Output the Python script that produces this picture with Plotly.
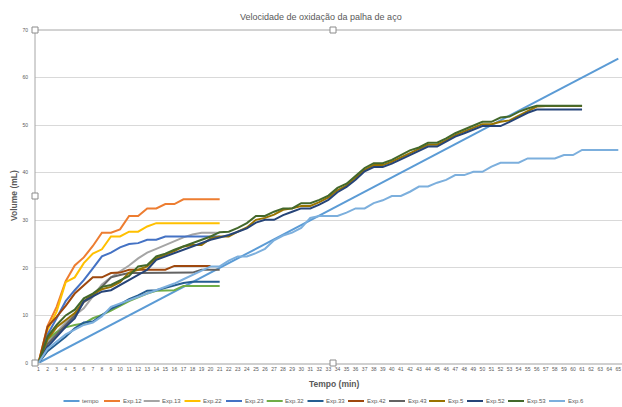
import plotly.graph_objects as go

# ---------------- data ----------------
categories = list(range(1, 66))

tempo = list(range(0, 65))
exp12 = [0, 7.8, 11.8, 17.2, 20.5, 22.2, 24.6, 27.4, 27.4, 28.1, 30.9, 30.9, 32.5, 32.5, 33.4, 33.4, 34.4, 34.4, 34.4, 34.4, 34.4]
exp13 = [0, 4.5, 6.5, 8.5, 10.0, 11.5, 14.0, 16.5, 18.0, 19.3, 20.5, 22.0, 23.2, 24.0, 24.8, 25.6, 26.4, 27.0, 27.4, 27.4, 27.4]
exp22 = [0, 7.0, 10.8, 17.0, 18.0, 21.0, 23.0, 23.9, 26.6, 26.6, 27.6, 27.6, 28.7, 29.4, 29.4, 29.4, 29.4, 29.4, 29.4, 29.4, 29.4]
exp23 = [0, 6.0, 9.4, 13.0, 15.3, 17.4, 19.9, 22.4, 23.2, 24.3, 25.0, 25.2, 25.9, 25.9, 26.6, 26.6, 26.6, 26.6, 26.6, 26.6, 26.6]
exp32 = [0, 5.0, 6.5, 7.5, 8.0, 8.3, 9.4, 10.1, 11.0, 12.0, 13.0, 13.8, 14.6, 15.2, 15.3, 15.3, 16.2, 16.2, 16.2, 16.2, 16.2]
exp33 = [0, 2.5, 4.0, 5.5, 7.3, 8.5, 8.7, 10.1, 11.4, 12.3, 13.4, 14.2, 15.2, 15.3, 15.8, 16.2, 16.8, 17.1, 17.1, 17.1, 17.1]
exp42 = [0, 7.6, 9.7, 12.0, 14.6, 16.4, 18.0, 18.0, 18.9, 19.0, 19.6, 19.6, 19.6, 19.6, 19.6, 20.4, 20.4, 20.4, 20.4, 20.4]
exp43 = [0, 4.0, 6.0, 8.0, 10.0, 12.8, 14.0, 16.0, 18.0, 18.5, 18.9, 18.9, 18.9, 18.9, 18.9, 18.9, 18.9, 19.0, 19.6, 19.6, 19.6]
exp5 = [0, 5.0, 7.5, 9.0, 10.5, 13.0, 14.5, 15.5, 16.0, 17.0, 19.0, 19.6, 20.3, 22.0, 22.8, 23.5, 24.5, 24.8, 24.8, 26.2,
        26.6, 26.6, 27.6, 28.5, 30.1, 30.5, 31.2, 32.2, 32.5, 33.0, 33.0, 33.8, 34.8, 36.3, 37.3, 38.9, 40.6, 41.6, 41.6, 42.3,
        43.2, 44.2, 45.0, 45.9, 45.9, 46.8, 47.9, 48.7, 49.4, 50.2, 50.2, 50.7, 51.0, 52.0, 53.0, 53.9, 54.0, 54.0, 54.0, 54.0, 54.0]
exp52 = [0, 3.4, 5.5, 7.6, 9.4, 13.0, 14.0, 15.0, 15.3, 16.4, 17.4, 18.5, 19.6, 21.7, 22.4, 23.1, 23.8, 24.5, 25.2, 25.9,
         26.4, 26.9, 27.6, 28.3, 29.5, 30.1, 30.1, 31.1, 31.8, 32.5, 32.5, 33.3, 34.3, 35.9, 37.0, 38.5, 40.3, 41.2, 41.2, 41.9,
         42.8, 43.7, 44.6, 45.5, 45.5, 46.5, 47.6, 48.3, 49.1, 49.8, 49.8, 49.8, 50.7, 51.6, 52.6, 53.3, 53.3, 53.3, 53.3, 53.3, 53.3]
exp53 = [0, 5.5, 8.0, 10.0, 11.2, 13.6, 14.6, 16.0, 16.4, 17.4, 18.3, 20.3, 20.6, 22.4, 23.0, 23.8, 24.5, 25.2, 25.9, 26.6,
         27.5, 27.6, 28.4, 29.4, 30.9, 30.9, 31.8, 32.5, 32.5, 33.6, 33.6, 34.3, 35.2, 36.8, 37.7, 39.3, 41.0, 42.0, 42.0, 42.7,
         43.7, 44.7, 45.3, 46.3, 46.3, 47.2, 48.3, 49.1, 49.8, 50.7, 50.7, 51.6, 51.8, 52.8, 53.5, 54.1, 54.1, 54.1, 54.1, 54.1, 54.1]
exp6 = [0, 3.0, 4.5, 6.0, 7.0, 8.0, 8.5, 9.8, 11.8, 12.5, 13.2, 13.9, 14.6, 15.3, 16.0, 16.7, 17.6, 18.5, 19.5, 20.3,
        20.3, 21.5, 22.4, 22.4, 23.1, 24.0, 25.8, 26.8, 27.4, 28.4, 30.5, 30.9, 30.9, 30.9, 31.6, 32.5, 32.5, 33.6, 34.2, 35.1,
        35.1, 36.0, 37.1, 37.1, 37.9, 38.5, 39.5, 39.5, 40.2, 40.2, 41.3, 42.1, 42.1, 42.1, 43.0, 43.0, 43.0, 43.0, 43.7, 43.7,
        44.8, 44.8, 44.8, 44.8, 44.8]

series_names = ["tempo", "Exp.12", "Exp.13", "Exp.22", "Exp.23", "Exp.32", "Exp.33",
                "Exp.42", "Exp.43", "Exp.5", "Exp.52", "Exp.53", "Exp.6"]
series_values = [tempo, exp12, exp13, exp22, exp23, exp32, exp33, exp42, exp43, exp5, exp52, exp53, exp6]
colors = ["#5B9BD5", "#ED7D31", "#A5A5A5", "#FFC000", "#4472C4", "#70AD47", "#255E91",
          "#9E480E", "#636363", "#997300", "#264478", "#43682B", "#7CAFDD"]

y_ticks = [0, 10, 20, 30, 40, 50, 60, 70]

# ---------------- layout geometry (pixels) ----------------
W, H = 622, 407
L, R, T, B = 35, 0, 30, 44
PW, PH = W - L - R, H - T - B
TXT = "#595959"
FONT = "Liberation Sans"


def px(x):
    return (x - L) / PW


def py(y):
    return (H - B - y) / PH


fig = go.Figure()
for name, vals, col in zip(series_names, series_values, colors):
    fig.add_trace(go.Scatter(x=categories[:len(vals)], y=vals, mode="lines", name=name,
                             line=dict(color=col, width=2), showlegend=False))

shapes = []
annotations = []

# manual legend
leg_x = [63.5, 104, 143.7, 184.5, 226, 266.7, 307.5, 348, 389, 429, 467, 508, 549]
leg_y = 401
for name, col, lx in zip(series_names, colors, leg_x):
    shapes.append(dict(type="line", xref="paper", yref="paper", x0=px(lx), x1=px(lx + 16),
                       y0=py(leg_y), y1=py(leg_y), line=dict(color=col, width=2)))
    annotations.append(dict(text=name, xref="paper", yref="paper", x=px(lx + 16.5), y=py(leg_y),
                            xanchor="left", yanchor="middle", showarrow=False,
                            font=dict(size=6, color=TXT, family=FONT)))

# title & axis titles
annotations.append(dict(text="Velocidade de oxidação da palha de aço", xref="paper", yref="paper",
                        x=px(321), y=py(17), xanchor="center", yanchor="middle", showarrow=False,
                        font=dict(size=9, color=TXT, family=FONT)))
annotations.append(dict(text="<b>Tempo (min)</b>", xref="paper", yref="paper",
                        x=px(334), y=py(384), xanchor="center", yanchor="middle", showarrow=False,
                        font=dict(size=8.5, color=TXT, family=FONT)))
annotations.append(dict(text="<b>Volume (mL)</b>", xref="paper", yref="paper", textangle=-90,
                        x=px(14), y=py(196), xanchor="center", yanchor="middle", showarrow=False,
                        font=dict(size=8.5, color=TXT, family=FONT)))

# plot-area frame (top and left border)
shapes.append(dict(type="line", xref="paper", yref="paper", x0=0, x1=1.01, y0=1, y1=1,
                   line=dict(color="#A6A6A6", width=1)))
shapes.append(dict(type="line", xref="paper", yref="paper", x0=0, x1=0, y0=0, y1=1,
                   line=dict(color="#A6A6A6", width=1)))

# selection handles
for hx, hy in [(35, 30), (333, 30), (35, 196), (35, 363), (333, 363)]:
    shapes.append(dict(type="rect", xref="paper", yref="paper", xsizemode="pixel", ysizemode="pixel",
                       xanchor=px(hx), yanchor=py(hy), x0=-3, x1=3, y0=-3, y1=3,
                       line=dict(color="#8C8C8C", width=1), fillcolor="white", layer="above"))

fig.update_layout(
    width=W, height=H,
    margin=dict(l=L, r=R, t=T, b=B, pad=0),
    paper_bgcolor="white", plot_bgcolor="white",
    font=dict(family=FONT, color=TXT),
    shapes=shapes, annotations=annotations,
    xaxis=dict(range=[0.614, 65.41], tickmode="array", tickvals=categories,
               ticktext=[str(c) for c in categories], tickangle=0,
               tickfont=dict(size=5, color=TXT), showgrid=False, zeroline=False,
               showline=True, linecolor="#D0D0D0", linewidth=2, ticks="", ticklen=0),
    yaxis=dict(range=[0, 70], tickmode="array", tickvals=y_ticks,
               tickfont=dict(size=5, color=TXT), showgrid=True, gridcolor="#D9D9D9", gridwidth=1,
               zeroline=False, showline=False, ticks="", ticklabelstandoff=6),
)

fig.write_html("out.html", config={"displayModeBar": False},
               post_script="document.body.style.margin='0';document.body.style.padding='0';"
                           "document.body.style.overflow='hidden';")
